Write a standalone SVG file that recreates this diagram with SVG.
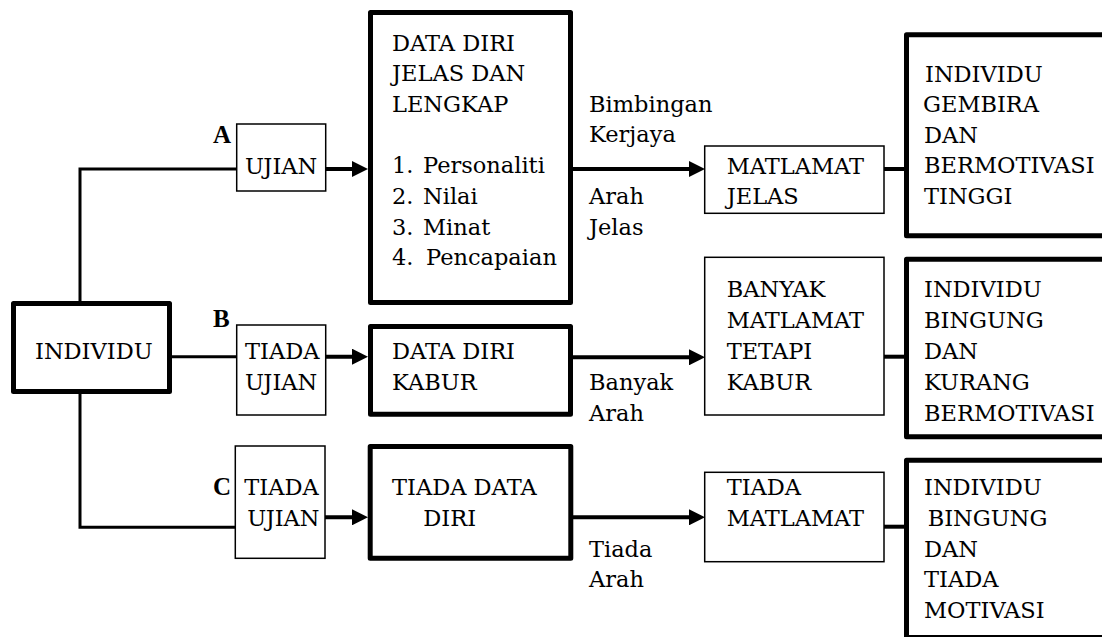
<svg xmlns="http://www.w3.org/2000/svg" width="1102" height="637" viewBox="0 0 1102 637">
<style>
.thick{fill:#fff;stroke:#000;stroke-width:5;stroke-linejoin:round}
.thin{fill:#fff;stroke:#000;stroke-width:1.5}
text{font-family:'DejaVu Serif','Liberation Serif',serif;font-size:22.5px;fill:#000}
.lbl{font-family:'Liberation Serif','DejaVu Serif',serif;font-size:25px;font-weight:700}
.br{fill:none;stroke:#000;stroke-width:3}
.ar{fill:none;stroke:#000;stroke-width:4}
</style>
<defs>
<marker id="ah" markerUnits="userSpaceOnUse" markerWidth="16" markerHeight="16" viewBox="0 0 16 16" refX="8" refY="8" orient="auto">
<path d="M0,0 L16,8 L0,16 z" fill="#000"/>
</marker>
</defs>
<rect width="1102" height="637" fill="#fff"/>
<g id="connectors">
<path class="br" d="M80,301 V169 H237"/>
<path class="br" d="M172,356.7 H237"/>
<path class="br" d="M80,394 V527.3 H237"/>
<path class="ar" d="M326,169 H360" marker-end="url(#ah)"/>
<path class="ar" d="M573,169 H697" marker-end="url(#ah)"/>
<path class="ar" d="M326,356.7 H360" marker-end="url(#ah)"/>
<path class="ar" d="M573,357.3 H697" marker-end="url(#ah)"/>
<path class="ar" d="M325,517.3 H360" marker-end="url(#ah)"/>
<path class="ar" d="M573,517.3 H697" marker-end="url(#ah)"/>
<path class="ar" d="M884,169 H906"/>
<path class="ar" d="M882,356.7 H906"/>
<path class="ar" d="M884,526.7 H906"/>
<text x="589" y="111.7">Bimbingan</text>
<text x="589" y="141.7">Kerjaya</text>
<text x="589" y="204">Arah</text>
<text x="589" y="235">Jelas</text>
<text x="589" y="390">Banyak</text>
<text x="589" y="420.7">Arah</text>
<text x="589" y="556.7">Tiada</text>
<text x="589" y="587.3">Arah</text>
<text class="lbl" x="213" y="143">A</text>
<text class="lbl" x="213" y="327">B</text>
<text class="lbl" x="213" y="495">C</text>
</g>
<g id="individu">
<rect class="thick" x="13.5" y="303.5" width="156" height="88"/>
<text x="35" y="359">INDIVIDU</text>
</g>
<g id="ujian-a">
<rect class="thin" x="236.7" y="124" width="89" height="67"/>
<text x="245" y="174">UJIAN</text>
</g>
<g id="data-diri-jelas">
<rect class="thick" x="370.5" y="12.5" width="200" height="290"/>
<text x="392" y="50.7">DATA DIRI</text>
<text x="392" y="81.3">JELAS DAN</text>
<text x="392" y="112">LENGKAP</text>
<text x="392" y="173.3">1.</text><text x="423" y="173.3">Personaliti</text>
<text x="392" y="204">2.</text><text x="423" y="204">Nilai</text>
<text x="392" y="234.7">3.</text><text x="423" y="234.7">Minat</text>
<text x="392" y="265.3">4.</text><text x="426" y="265.3">Pencapaian</text>
</g>
<g id="matlamat-jelas">
<rect class="thin" x="704.7" y="146" width="179.3" height="67.3"/>
<text x="726.7" y="174">MATLAMAT</text>
<text x="726.7" y="204">JELAS</text>
</g>
<g id="hasil-a">
<rect class="thick" x="906.5" y="34.8" width="210" height="201"/>
<text x="925" y="81.7">INDIVIDU</text>
<text x="923" y="111.7">GEMBIRA</text>
<text x="924" y="142.7">DAN</text>
<text x="924" y="173.3">BERMOTIVASI</text>
<text x="924" y="204">TINGGI</text>
</g>
<g id="tiada-ujian-b">
<rect class="thin" x="236.7" y="325" width="89" height="90"/>
<text x="245" y="359.3">TIADA</text>
<text x="245" y="390">UJIAN</text>
</g>
<g id="data-diri-kabur">
<rect class="thick" x="370.5" y="326.5" width="200" height="87.7"/>
<text x="392" y="359.3">DATA DIRI</text>
<text x="392" y="390">KABUR</text>
</g>
<g id="banyak-matlamat">
<rect class="thin" x="704.7" y="257.3" width="179.3" height="157.7"/>
<text x="726.7" y="296.7">BANYAK</text>
<text x="726.7" y="328.3">MATLAMAT</text>
<text x="726.7" y="359.3">TETAPI</text>
<text x="726.7" y="390">KABUR</text>
</g>
<g id="hasil-b">
<rect class="thick" x="906.5" y="259.2" width="210" height="177.6"/>
<text x="924" y="296.7">INDIVIDU</text>
<text x="924" y="328.3">BINGUNG</text>
<text x="924" y="359.3">DAN</text>
<text x="924" y="390">KURANG</text>
<text x="924" y="420.7">BERMOTIVASI</text>
</g>
<g id="tiada-ujian-c">
<rect class="thin" x="235.3" y="446" width="89.7" height="112.3"/>
<text x="244.3" y="495">TIADA</text>
<text x="247.3" y="526">UJIAN</text>
</g>
<g id="tiada-data-diri">
<rect class="thick" x="370.2" y="446.5" width="200.6" height="111.7"/>
<text x="392" y="495">TIADA DATA</text>
<text x="423.3" y="526">DIRI</text>
</g>
<g id="tiada-matlamat">
<rect class="thin" x="704.7" y="472.3" width="179.3" height="89.4"/>
<text x="726.7" y="495">TIADA</text>
<text x="726.7" y="526">MATLAMAT</text>
</g>
<g id="hasil-c">
<rect class="thick" x="906.5" y="460.2" width="210" height="177.3"/>
<text x="924" y="495">INDIVIDU</text>
<text x="927.7" y="526">BINGUNG</text>
<text x="924" y="556.7">DAN</text>
<text x="924" y="587.3">TIADA</text>
<text x="924" y="618.3">MOTIVASI</text>
</g>
</svg>
